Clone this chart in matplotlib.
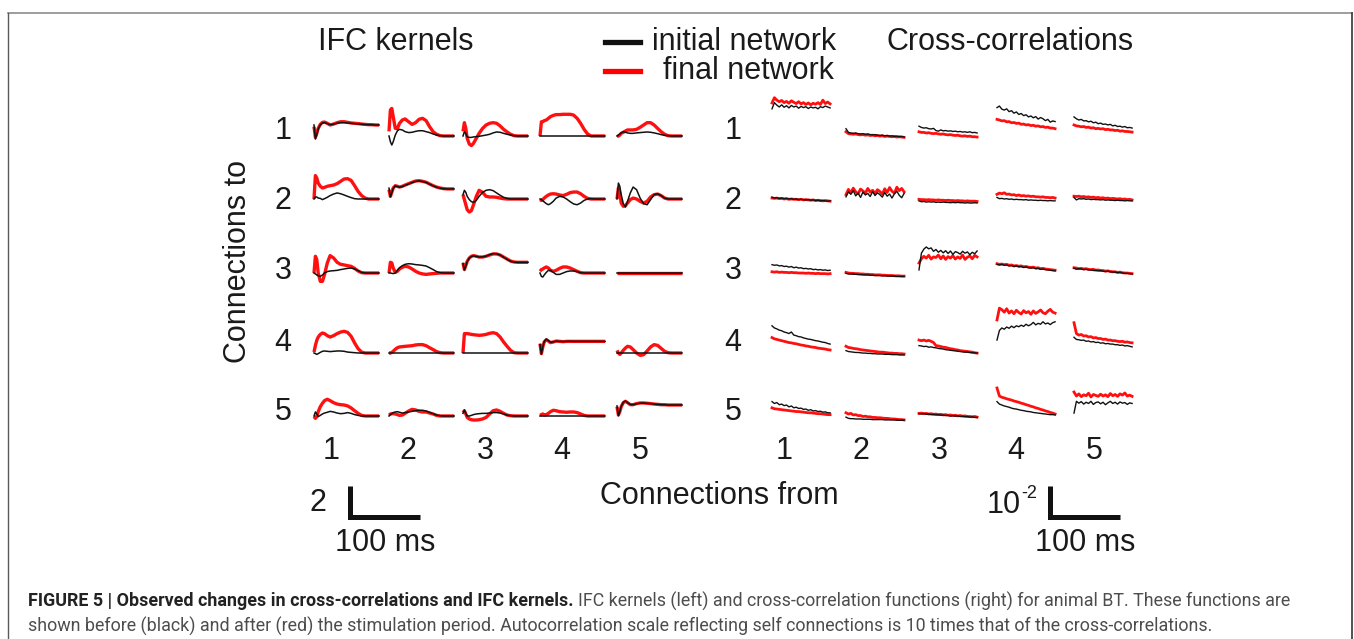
import matplotlib.pyplot as plt
import numpy as np
from matplotlib.lines import Line2D

# --- Figure geometry (pixels) ---
W, H = 1354, 639
FONT = "Liberation Sans"

# --- IFC kernels: time grid [ms] and amplitudes (rows = connections to, cols = from) ---
t_kernel = [0, 2, 4, 6, 9, 12, 15, 19, 23, 28, 33, 38, 43, 48, 53, 58, 63, 68, 73, 78, 83, 88, 93]
flat_kernel = [0, 0, 0, 0, 0, 0, 0, 0, 0, 0, 0, 0, 0, 0, 0, 0, 0, 0, 0, 0, 0, 0, 0]

ifc_final_1 = [
    [0.6, -0.09, 0.17, 0.49, 0.75, 0.88, 0.9, 0.82, 0.71, 0.77, 0.86, 0.92, 0.92, 0.88, 0.84, 0.82, 0.8, 0.77, 0.75, 0.73, 0.73, 0.71, 0.71],
    [0.3, 1.68, 1.78, 1.25, 0.49, 0.49, 0.82, 1.03, 1.1, 0.92, 0.75, 0.86, 1.08, 1.14, 0.99, 0.6, 0.28, 0.11, 0.02, 0, 0, 0, 0],
    [0.3, 0.86, 0.49, -0.15, -0.52, -0.62, -0.47, -0.15, 0.17, 0.49, 0.71, 0.82, 0.86, 0.82, 0.65, 0.43, 0.26, 0.11, 0.02, 0, 0, 0, 0],
    [0, 0.92, 0.92, 0.99, 1.03, 1.14, 1.25, 1.33, 1.38, 1.38, 1.4, 1.4, 1.4, 1.35, 1.14, 0.82, 0.43, 0.13, 0, 0, 0, 0, 0],
    [-0.04, 0, 0.06, 0.17, 0.24, 0.32, 0.39, 0.39, 0.39, 0.43, 0.56, 0.71, 0.86, 0.86, 0.71, 0.49, 0.28, 0.11, 0.02, 0, 0, 0, 0],
]
ifc_initial_1 = [
    [0.71, -0.2, 0.1, 0.45, 0.72, 0.84, 0.86, 0.8, 0.73, 0.77, 0.82, 0.86, 0.86, 0.84, 0.82, 0.8, 0.78, 0.76, 0.74, 0.73, 0.72, 0.71, 0.71],
    [0, -0.37, -0.58, -0.37, 0.06, 0.34, 0.43, 0.39, 0.28, 0.22, 0.24, 0.3, 0.34, 0.34, 0.28, 0.22, 0.13, 0.06, 0.02, 0, 0, 0, 0],
    [0, 0.28, 0.15, -0.06, -0.09, -0.09, -0.06, -0.04, -0.02, 0.02, 0.06, 0.11, 0.2, 0.26, 0.24, 0.17, 0.11, 0.06, 0.02, 0, 0, 0, 0],
    flat_kernel,
    [0, 0.06, 0.13, 0.2, 0.28, 0.24, 0.2, 0.17, 0.17, 0.2, 0.22, 0.24, 0.26, 0.24, 0.2, 0.15, 0.09, 0.04, 0.02, 0, 0, 0, 0],
]
ifc_final_2 = [
    [0, 1.51, 1.35, 1.03, 0.82, 0.71, 0.75, 0.82, 0.86, 0.9, 0.99, 1.14, 1.29, 1.31, 1.2, 0.86, 0.49, 0.22, 0.06, 0, 0, 0, 0],
    [0.6, 0.17, 0.43, 0.71, 0.86, 0.82, 0.77, 0.82, 0.9, 0.99, 1.08, 1.16, 1.18, 1.14, 1.08, 0.97, 0.86, 0.77, 0.71, 0.67, 0.65, 0.65, 0.65],
    [0.28, -0.04, -0.37, -0.69, -0.84, -0.75, -0.37, 0.17, 0.56, 0.43, 0.17, 0.13, 0.13, 0.11, 0.06, 0.02, 0, 0, 0, 0, 0, 0, 0],
    [-0.04, -0.09, -0.04, 0.06, 0.17, 0.26, 0.32, 0.34, 0.32, 0.26, 0.22, 0.3, 0.41, 0.45, 0.45, 0.34, 0.17, 0.04, 0, 0, 0, 0, 0],
    [0, 0.71, 0.39, -0.26, -0.47, -0.43, -0.26, -0.04, 0.06, 0, -0.15, -0.26, -0.15, 0.13, 0.28, 0.32, 0.22, 0.06, 0, 0, 0, 0, 0],
]
ifc_initial_2 = [
    [0, 0.13, 0.13, 0.06, 0.04, -0.04, 0.02, 0.11, 0.22, 0.32, 0.39, 0.34, 0.26, 0.17, 0.09, 0.02, 0, 0, 0, 0, 0, 0, 0],
    [0.7, 0.13, 0.4, 0.69, 0.84, 0.8, 0.76, 0.8, 0.88, 0.97, 1.06, 1.14, 1.17, 1.13, 1.07, 0.96, 0.85, 0.76, 0.7, 0.66, 0.65, 0.65, 0.65],
    [0.28, 0.56, 0.43, 0.17, -0.04, -0.17, -0.22, -0.09, 0.17, 0.43, 0.56, 0.6, 0.54, 0.39, 0.24, 0.11, 0.04, 0, 0, 0, 0, 0, 0],
    [0, -0.04, -0.11, -0.19, -0.3, -0.37, -0.3, -0.15, 0.06, 0.17, 0.13, 0, -0.17, -0.32, -0.37, -0.26, -0.09, 0, 0.02, 0, 0, 0, 0],
    [0, 1.03, 0.82, 0.28, -0.3, -0.52, -0.15, 0.39, 0.77, 0.6, 0.06, -0.3, -0.37, -0.04, 0.28, 0.34, 0.22, 0.06, 0, 0, 0, 0, 0],
]
ifc_final_3 = [
    [0, 1.08, 0.86, 0, -0.54, -0.54, -0.11, 0.65, 1.12, 0.97, 0.69, 0.56, 0.52, 0.47, 0.43, 0.3, 0.13, 0.02, 0, 0, 0, 0, 0],
    [0, 0.69, 0.65, 0.32, 0.04, 0.11, 0.26, 0.37, 0.43, 0.39, 0.26, 0.11, 0, -0.06, -0.09, -0.06, -0.04, -0.02, 0, 0, 0, 0, 0],
    [0.65, 0.22, 0.47, 0.75, 0.97, 1.08, 1.12, 1.08, 1.03, 1.03, 1.08, 1.16, 1.23, 1.23, 1.16, 1.03, 0.9, 0.77, 0.71, 0.69, 0.69, 0.69, 0.69],
    [0.11, 0.22, 0.26, 0.32, 0.39, 0.32, 0.17, 0.11, 0.17, 0.3, 0.39, 0.39, 0.32, 0.22, 0.11, 0.02, 0, 0, 0, 0, 0, 0, 0],
    flat_kernel,
]
ifc_initial_3 = [
    [0, -0.06, -0.13, -0.17, -0.22, -0.13, 0, 0.09, 0.13, 0.15, 0.17, 0.22, 0.26, 0.3, 0.32, 0.26, 0.15, 0.04, 0, 0, 0, 0, 0],
    [0, 0, -0.02, -0.04, 0, 0.17, 0.34, 0.47, 0.56, 0.6, 0.58, 0.54, 0.52, 0.49, 0.45, 0.34, 0.22, 0.09, 0.02, 0, 0, 0, 0],
    [0.62, 0.2, 0.45, 0.74, 0.96, 1.06, 1.1, 1.07, 1.03, 1.04, 1.09, 1.18, 1.25, 1.24, 1.16, 1.02, 0.88, 0.76, 0.7, 0.69, 0.69, 0.69, 0.69],
    [0, -0.22, -0.26, -0.13, 0.04, 0.17, 0.17, 0.04, -0.09, -0.09, 0, 0.09, 0.13, 0.13, 0.09, 0.02, 0, 0, 0, 0, 0, 0, 0],
    flat_kernel,
]
ifc_final_4 = [
    [0.06, 0.49, 0.82, 1.03, 1.2, 1.29, 1.25, 1.12, 1.03, 1.12, 1.25, 1.35, 1.4, 1.33, 1.08, 0.65, 0.28, 0.06, 0, 0, 0, 0, 0],
    [0, 0, 0.04, 0.11, 0.24, 0.34, 0.39, 0.41, 0.43, 0.45, 0.47, 0.52, 0.54, 0.54, 0.47, 0.34, 0.22, 0.09, 0.02, 0, 0, 0, 0],
    [0, 1.25, 1.25, 1.25, 1.23, 1.2, 1.18, 1.16, 1.14, 1.16, 1.2, 1.27, 1.31, 1.25, 1.03, 0.71, 0.43, 0.17, 0.02, 0, 0, 0, 0],
    [0.6, -0.04, 0.39, 0.71, 0.86, 0.77, 0.67, 0.71, 0.77, 0.75, 0.73, 0.75, 0.75, 0.75, 0.75, 0.75, 0.75, 0.75, 0.75, 0.75, 0.75, 0.75, 0.75],
    [0.17, 0, -0.09, 0, 0.17, 0.32, 0.43, 0.39, 0.22, 0, -0.15, -0.11, 0.13, 0.39, 0.54, 0.49, 0.3, 0.11, 0.02, 0, 0, 0, 0],
]
ifc_initial_4 = [
    [0, -0.04, -0.09, -0.04, 0.04, 0.11, 0.13, 0.11, 0.09, 0.11, 0.13, 0.13, 0.11, 0.06, 0.04, 0.02, 0, 0, 0, 0, 0, 0, 0],
    flat_kernel,
    flat_kernel,
    [0.55, -0.08, 0.4, 0.74, 0.9, 0.8, 0.7, 0.72, 0.76, 0.75, 0.74, 0.75, 0.76, 0.75, 0.75, 0.75, 0.75, 0.75, 0.75, 0.75, 0.75, 0.75, 0.75],
    flat_kernel,
]
ifc_final_5 = [
    [-0.04, -0.15, -0.04, 0.28, 0.6, 0.82, 0.99, 1.08, 0.99, 0.86, 0.77, 0.73, 0.71, 0.65, 0.52, 0.34, 0.17, 0.04, 0, 0, 0, 0, 0],
    [0.06, 0.13, 0.15, 0.15, 0.13, 0.09, 0.04, 0.06, 0.17, 0.32, 0.43, 0.39, 0.3, 0.26, 0.26, 0.19, 0.13, 0.04, 0, 0, 0, 0, 0],
    [0.22, 0.34, 0.13, -0.09, -0.19, -0.24, -0.26, -0.26, -0.24, -0.19, -0.09, 0.13, 0.34, 0.39, 0.3, 0.17, 0.06, 0.02, 0, 0, 0, 0, 0],
    [0.04, 0.09, 0.13, 0.06, 0.09, 0.17, 0.28, 0.37, 0.34, 0.28, 0.26, 0.24, 0.26, 0.26, 0.22, 0.13, 0.04, 0, 0, 0, 0, 0, 0],
    [0.6, 0.06, 0.28, 0.6, 0.86, 0.95, 0.86, 0.73, 0.73, 0.8, 0.84, 0.84, 0.82, 0.8, 0.77, 0.75, 0.73, 0.73, 0.71, 0.71, 0.71, 0.71, 0.71],
]
ifc_initial_5 = [
    [0, 0.26, 0.13, -0.04, 0.04, 0.13, 0.19, 0.24, 0.3, 0.26, 0.19, 0.15, 0.17, 0.22, 0.17, 0.09, 0.04, 0, 0, 0, 0, 0, 0],
    [0, 0.09, 0.15, 0.22, 0.26, 0.28, 0.24, 0.19, 0.22, 0.26, 0.3, 0.34, 0.37, 0.37, 0.32, 0.24, 0.15, 0.06, 0.02, 0, 0, 0, 0],
    [0.17, 0.39, 0.17, 0, 0, 0.04, 0.09, 0.13, 0.15, 0.17, 0.17, 0.19, 0.22, 0.22, 0.19, 0.13, 0.06, 0.02, 0, 0, 0, 0, 0],
    flat_kernel,
    [0.65, 0.02, 0.26, 0.62, 0.88, 0.97, 0.87, 0.74, 0.73, 0.79, 0.83, 0.84, 0.82, 0.8, 0.77, 0.75, 0.73, 0.72, 0.71, 0.71, 0.71, 0.71, 0.71],
]

# --- Cross-correlations [1e-2]; self connections (diagonal) are drawn at 1/10 scale ---
AUTO_SCALE = 10
xc_final_1 = [
    [15.5, 17.2, 16.4, 15.9, 16.3, 15.6, 16.0, 15.4, 16.2, 15.7, 15.3, 15.9, 15.2, 15.6, 15.0, 15.5, 14.9, 15.4, 15.1, 15.6, 15.0, 16.4, 15.3, 15.8, 15.2],
    [0.62, 0.56, 0.55, 0.54, 0.55, 0.53, 0.52, 0.53, 0.51, 0.52, 0.5, 0.51, 0.49, 0.5, 0.48, 0.49, 0.47, 0.48, 0.47, 0.46, 0.47, 0.45, 0.46, 0.45, 0.44],
    [0.62, 0.6, 0.6, 0.58, 0.59, 0.57, 0.56, 0.57, 0.55, 0.54, 0.55, 0.53, 0.52, 0.53, 0.51, 0.5, 0.51, 0.49, 0.48, 0.49, 0.47, 0.48, 0.46, 0.46, 0.45],
    [1.02, 1.0, 0.97, 0.98, 0.94, 0.95, 0.91, 0.92, 0.89, 0.9, 0.86, 0.87, 0.84, 0.85, 0.82, 0.83, 0.8, 0.81, 0.78, 0.79, 0.76, 0.77, 0.74, 0.74, 0.72],
    [0.84, 0.81, 0.8, 0.78, 0.79, 0.76, 0.77, 0.74, 0.75, 0.72, 0.73, 0.71, 0.72, 0.69, 0.7, 0.68, 0.68, 0.66, 0.67, 0.64, 0.65, 0.63, 0.63, 0.62, 0.61],
]
xc_initial_1 = [
    [13.6, 15.6, 14.8, 14.2, 14.9, 14.1, 14.6, 13.9, 14.7, 14.2, 14.5, 13.8, 14.4, 14.0, 14.3, 13.7, 14.2, 13.9, 14.1, 13.6, 14.3, 14.0, 14.5, 14.2, 13.9],
    [0.72, 0.6, 0.58, 0.57, 0.58, 0.56, 0.55, 0.56, 0.54, 0.55, 0.53, 0.52, 0.53, 0.51, 0.5, 0.51, 0.49, 0.5, 0.48, 0.49, 0.47, 0.48, 0.46, 0.47, 0.45],
    [0.8, 0.76, 0.74, 0.75, 0.72, 0.71, 0.73, 0.66, 0.64, 0.68, 0.65, 0.66, 0.64, 0.65, 0.63, 0.64, 0.62, 0.63, 0.61, 0.62, 0.6, 0.62, 0.59, 0.6, 0.58],
    [1.4, 1.45, 1.35, 1.32, 1.36, 1.27, 1.3, 1.22, 1.26, 1.18, 1.21, 1.14, 1.17, 1.1, 1.13, 1.07, 1.11, 1.03, 1.08, 1.04, 0.98, 1.02, 0.93, 0.97, 0.95],
    [1.1, 1.04, 1.0, 1.02, 0.97, 0.98, 0.94, 0.96, 0.91, 0.93, 0.88, 0.9, 0.86, 0.87, 0.84, 0.86, 0.81, 0.83, 0.79, 0.8, 0.77, 0.79, 0.75, 0.76, 0.74],
]
xc_final_2 = [
    [0.74, 0.73, 0.74, 0.72, 0.73, 0.71, 0.72, 0.7, 0.71, 0.7, 0.7, 0.69, 0.7, 0.68, 0.69, 0.68, 0.67, 0.68, 0.66, 0.67, 0.66, 0.65, 0.66, 0.65, 0.64],
    [8.5, 10.2, 9.1, 10.6, 9.4, 8.8, 10.3, 9.7, 9.0, 10.5, 9.3, 9.9, 8.9, 10.1, 9.5, 8.7, 10.4, 9.2, 10.8, 9.6, 9.0, 10.9, 9.8, 10.5, 9.4],
    [0.7, 0.69, 0.69, 0.68, 0.69, 0.68, 0.68, 0.67, 0.68, 0.67, 0.67, 0.66, 0.67, 0.66, 0.66, 0.65, 0.66, 0.65, 0.65, 0.64, 0.65, 0.64, 0.64, 0.64, 0.63],
    [0.86, 0.9, 0.88, 0.91, 0.86, 0.87, 0.84, 0.85, 0.82, 0.84, 0.81, 0.82, 0.8, 0.81, 0.79, 0.8, 0.78, 0.78, 0.77, 0.78, 0.76, 0.76, 0.75, 0.76, 0.74],
    [0.8, 0.79, 0.8, 0.78, 0.79, 0.77, 0.78, 0.76, 0.77, 0.75, 0.76, 0.74, 0.75, 0.73, 0.74, 0.72, 0.73, 0.72, 0.71, 0.72, 0.7, 0.71, 0.69, 0.7, 0.68],
]
xc_initial_2 = [
    [0.77, 0.74, 0.75, 0.73, 0.74, 0.72, 0.73, 0.71, 0.72, 0.7, 0.71, 0.69, 0.7, 0.69, 0.68, 0.69, 0.67, 0.68, 0.66, 0.67, 0.65, 0.66, 0.65, 0.64, 0.65],
    [7.8, 9.4, 8.6, 9.8, 8.1, 9.0, 7.6, 9.3, 8.4, 8.9, 7.9, 9.5, 8.2, 9.1, 8.5, 7.7, 9.2, 8.0, 8.7, 7.4, 8.8, 9.6, 8.3, 7.5, 8.9],
    [0.65, 0.62, 0.63, 0.61, 0.62, 0.61, 0.62, 0.6, 0.61, 0.6, 0.61, 0.6, 0.6, 0.59, 0.6, 0.59, 0.6, 0.59, 0.59, 0.58, 0.59, 0.58, 0.58, 0.59, 0.58],
    [0.76, 0.72, 0.73, 0.71, 0.72, 0.7, 0.71, 0.69, 0.7, 0.69, 0.69, 0.68, 0.69, 0.67, 0.68, 0.67, 0.67, 0.66, 0.67, 0.66, 0.66, 0.65, 0.66, 0.65, 0.65],
    [0.76, 0.68, 0.72, 0.71, 0.72, 0.7, 0.71, 0.69, 0.7, 0.69, 0.69, 0.68, 0.69, 0.67, 0.68, 0.67, 0.67, 0.66, 0.67, 0.66, 0.66, 0.65, 0.66, 0.65, 0.65],
]
xc_final_3 = [
    [0.62, 0.61, 0.62, 0.6, 0.61, 0.6, 0.6, 0.59, 0.6, 0.59, 0.59, 0.58, 0.58, 0.58, 0.57, 0.58, 0.57, 0.57, 0.56, 0.57, 0.56, 0.56, 0.56, 0.55, 0.56],
    [0.6, 0.58, 0.57, 0.57, 0.56, 0.56, 0.55, 0.55, 0.54, 0.54, 0.53, 0.53, 0.52, 0.52, 0.52, 0.51, 0.51, 0.5, 0.5, 0.5, 0.49, 0.49, 0.49, 0.48, 0.48],
    [9.0, 10.4, 11.2, 10.6, 11.5, 10.3, 11.0, 10.8, 11.6, 10.4, 11.3, 10.2, 11.1, 10.6, 11.4, 10.3, 11.0, 10.5, 11.6, 10.2, 10.9, 11.3, 10.4, 11.5, 11.0],
    [0.88, 0.86, 0.87, 0.85, 0.86, 0.83, 0.84, 0.81, 0.82, 0.8, 0.81, 0.78, 0.79, 0.77, 0.76, 0.77, 0.74, 0.75, 0.72, 0.73, 0.71, 0.7, 0.69, 0.68, 0.67],
    [0.75, 0.74, 0.72, 0.73, 0.71, 0.72, 0.7, 0.69, 0.7, 0.67, 0.68, 0.66, 0.66, 0.64, 0.65, 0.63, 0.62, 0.62, 0.6, 0.61, 0.59, 0.58, 0.58, 0.57, 0.56],
]
xc_initial_3 = [
    [0.85, 0.83, 0.84, 0.81, 0.82, 0.79, 0.8, 0.77, 0.79, 0.75, 0.77, 0.74, 0.75, 0.72, 0.73, 0.71, 0.72, 0.69, 0.7, 0.68, 0.69, 0.67, 0.68, 0.66, 0.67],
    [0.57, 0.55, 0.55, 0.54, 0.54, 0.53, 0.53, 0.52, 0.52, 0.52, 0.51, 0.51, 0.5, 0.5, 0.5, 0.49, 0.49, 0.49, 0.48, 0.48, 0.48, 0.47, 0.47, 0.47, 0.47],
    [6.8, 12.2, 13.5, 14.2, 13.6, 13.9, 12.8, 13.4, 12.5, 13.1, 12.3, 13.0, 12.1, 12.9, 11.8, 12.7, 12.4, 11.9, 12.8, 12.2, 12.6, 11.7, 12.5, 12.0, 12.9],
    [0.86, 0.84, 0.86, 0.83, 0.84, 0.81, 0.82, 0.79, 0.81, 0.78, 0.79, 0.76, 0.78, 0.75, 0.74, 0.75, 0.72, 0.73, 0.7, 0.71, 0.69, 0.68, 0.67, 0.66, 0.65],
    [0.74, 0.7, 0.72, 0.71, 0.69, 0.7, 0.68, 0.68, 0.66, 0.67, 0.65, 0.66, 0.64, 0.63, 0.64, 0.62, 0.61, 0.61, 0.59, 0.6, 0.58, 0.57, 0.57, 0.56, 0.55],
]
xc_final_4 = [
    [0.82, 0.78, 0.76, 0.74, 0.72, 0.7, 0.68, 0.66, 0.65, 0.63, 0.62, 0.6, 0.58, 0.57, 0.55, 0.54, 0.52, 0.51, 0.5, 0.48, 0.47, 0.46, 0.45, 0.43, 0.42],
    [0.54, 0.5, 0.49, 0.47, 0.46, 0.45, 0.43, 0.42, 0.41, 0.4, 0.39, 0.38, 0.37, 0.36, 0.35, 0.35, 0.34, 0.33, 0.32, 0.32, 0.31, 0.31, 0.3, 0.3, 0.29],
    [0.74, 0.72, 0.74, 0.71, 0.73, 0.7, 0.66, 0.56, 0.55, 0.53, 0.51, 0.5, 0.48, 0.46, 0.45, 0.43, 0.42, 0.4, 0.39, 0.38, 0.37, 0.36, 0.35, 0.33, 0.32],
    [13.9, 17.7, 17.2, 16.4, 17.5, 16.1, 16.8, 15.9, 17.0, 16.3, 15.8, 16.9, 16.2, 16.6, 15.7, 16.8, 16.0, 16.5, 17.1, 16.2, 15.9, 16.7, 17.3, 16.4, 16.1],
    [1.3, 0.95, 0.9, 0.92, 0.87, 0.88, 0.84, 0.85, 0.81, 0.82, 0.79, 0.79, 0.76, 0.77, 0.74, 0.74, 0.72, 0.72, 0.7, 0.69, 0.7, 0.67, 0.68, 0.66, 0.65],
]
xc_initial_4 = [
    [1.2, 1.13, 1.1, 1.06, 1.04, 1.0, 0.98, 0.95, 1.0, 0.9, 0.88, 0.85, 0.84, 0.81, 0.79, 0.77, 0.76, 0.74, 0.72, 0.71, 0.69, 0.67, 0.66, 0.63, 0.61],
    [0.4, 0.37, 0.36, 0.35, 0.34, 0.34, 0.33, 0.32, 0.32, 0.31, 0.31, 0.3, 0.3, 0.29, 0.29, 0.29, 0.28, 0.28, 0.28, 0.27, 0.27, 0.27, 0.26, 0.26, 0.26],
    [0.56, 0.55, 0.53, 0.54, 0.51, 0.52, 0.5, 0.49, 0.47, 0.46, 0.45, 0.43, 0.42, 0.41, 0.4, 0.39, 0.38, 0.37, 0.36, 0.35, 0.35, 0.34, 0.33, 0.33, 0.32],
    [7.4, 10.5, 11.3, 10.9, 11.6, 11.2, 11.9, 11.4, 12.0, 11.7, 12.2, 11.8, 12.5, 12.0, 12.4, 13.1, 12.3, 12.8, 12.5, 13.3, 12.6, 12.9, 12.4, 13.0, 13.3],
    [0.83, 0.76, 0.75, 0.73, 0.74, 0.7, 0.71, 0.68, 0.69, 0.66, 0.67, 0.64, 0.65, 0.62, 0.63, 0.61, 0.61, 0.59, 0.59, 0.57, 0.58, 0.55, 0.56, 0.54, 0.52],
]
xc_final_5 = [
    [0.78, 0.75, 0.74, 0.73, 0.72, 0.71, 0.7, 0.69, 0.68, 0.67, 0.66, 0.66, 0.65, 0.64, 0.63, 0.62, 0.62, 0.61, 0.6, 0.59, 0.59, 0.58, 0.57, 0.56, 0.56],
    [0.62, 0.58, 0.6, 0.55, 0.56, 0.53, 0.53, 0.5, 0.51, 0.49, 0.49, 0.47, 0.47, 0.46, 0.46, 0.45, 0.44, 0.44, 0.43, 0.42, 0.42, 0.41, 0.4, 0.4, 0.39],
    [0.6, 0.61, 0.59, 0.6, 0.58, 0.59, 0.57, 0.58, 0.56, 0.57, 0.55, 0.56, 0.54, 0.55, 0.53, 0.54, 0.52, 0.53, 0.51, 0.52, 0.5, 0.5, 0.49, 0.5, 0.48],
    [1.42, 1.16, 1.12, 1.1, 1.07, 1.05, 1.03, 1.0, 0.98, 0.96, 0.93, 0.91, 0.88, 0.86, 0.83, 0.81, 0.78, 0.76, 0.73, 0.71, 0.68, 0.66, 0.63, 0.61, 0.58],
    [12.9, 11.6, 12.3, 11.4, 12.0, 11.7, 12.5, 11.3, 12.1, 11.8, 11.5, 12.2, 11.6, 12.0, 11.4, 12.4, 11.7, 12.1, 11.5, 12.3, 11.9, 12.6, 11.6, 11.9, 11.5],
]
xc_initial_5 = [
    [0.98, 0.92, 0.95, 0.88, 0.9, 0.85, 0.87, 0.81, 0.84, 0.78, 0.8, 0.76, 0.77, 0.73, 0.74, 0.7, 0.72, 0.68, 0.69, 0.66, 0.67, 0.64, 0.65, 0.62, 0.62],
    [0.48, 0.44, 0.43, 0.43, 0.42, 0.42, 0.42, 0.41, 0.41, 0.41, 0.41, 0.4, 0.4, 0.4, 0.4, 0.4, 0.39, 0.39, 0.39, 0.39, 0.39, 0.38, 0.38, 0.38, 0.38],
    [0.59, 0.58, 0.6, 0.57, 0.58, 0.56, 0.57, 0.55, 0.56, 0.54, 0.55, 0.53, 0.54, 0.51, 0.53, 0.51, 0.52, 0.5, 0.51, 0.49, 0.5, 0.48, 0.49, 0.47, 0.47],
    [0.98, 0.9, 0.87, 0.84, 0.82, 0.8, 0.77, 0.75, 0.74, 0.72, 0.7, 0.69, 0.67, 0.66, 0.65, 0.63, 0.62, 0.61, 0.6, 0.59, 0.58, 0.57, 0.56, 0.56, 0.55],
    [6.1, 9.9, 9.3, 9.8, 9.0, 9.6, 9.2, 9.9, 8.9, 9.5, 9.7, 9.1, 9.6, 8.8, 9.4, 9.9, 9.2, 9.6, 9.0, 9.7, 9.3, 9.5, 8.9, 9.4, 9.2],
]
t_xcorr = np.linspace(0, 83, 25)  # lag axis [ms]

ifc_final = [ifc_final_1, ifc_final_2, ifc_final_3, ifc_final_4, ifc_final_5]
ifc_initial = [ifc_initial_1, ifc_initial_2, ifc_initial_3, ifc_initial_4, ifc_initial_5]
xc_final = [xc_final_1, xc_final_2, xc_final_3, xc_final_4, xc_final_5]
xc_initial = [xc_initial_1, xc_initial_2, xc_initial_3, xc_initial_4, xc_initial_5]
labels = ["1", "2", "3", "4", "5"]

# --- Layout (pixels) ---
PX_PER_MS = 0.7
K_X0 = [314, 389, 463, 540, 617]
K_ZERO_Y = [136, 199, 273, 353, 416]
K_PX_PER_UNIT = 15.5
X_X0 = [772, 846, 919, 997, 1074]
X_ZERO_Y = [151, 221, 291, 363, 432]
X_PX_PER_UNIT = 31.0
ROW_LABEL_Y = [131, 201, 271, 343, 412]
K_COL_LABEL_X = [331, 408, 485, 562, 640]
X_COL_LABEL_X = [784, 861, 939, 1016, 1094]

RED = "#ff1010"
BLACK = "#111111"


def fx(x):
    return x / W


def fy(y):
    return 1 - y / H


fig = plt.figure(figsize=(W / 100, H / 100), dpi=100)


def cell(x0, y0, span_ms, px_per_unit, above=45, below=45):
    """Axes whose data origin sits at pixel (x0, y0)."""
    w = span_ms * PX_PER_MS
    ax = fig.add_axes([fx(x0), fy(y0 + below), w / W, (above + below) / H])
    ax.set_xlim(0, span_ms)
    ax.set_ylim(-below / px_per_unit, above / px_per_unit)
    ax.axis("off")
    return ax


# IFC kernels
for r in range(5):
    for c in range(5):
        ax = cell(K_X0[c], K_ZERO_Y[r], t_kernel[-1], K_PX_PER_UNIT)
        ax.plot(t_kernel, ifc_final[r][c], color=RED, lw=2.4, solid_capstyle="butt", clip_on=False)
        ax.plot(t_kernel, ifc_initial[r][c], color=BLACK, lw=1.1, clip_on=False)

# Cross-correlations
for r in range(5):
    for c in range(5):
        scale = AUTO_SCALE if r == c else 1
        ax = cell(X_X0[c], X_ZERO_Y[r], t_xcorr[-1], X_PX_PER_UNIT, above=70, below=5)
        ax.plot(t_xcorr, np.array(xc_final[r][c]) / scale, color=RED, lw=2.0, clip_on=False)
        ax.plot(t_xcorr, np.array(xc_initial[r][c]) / scale, color=BLACK, lw=1.0, clip_on=False)

# Scale bars: 2 units / 100 ms (kernels) and 1e-2 / 100 ms (cross-correlations)
for x0, bar_height, ppu in [(350, 2, K_PX_PER_UNIT), (1050, 1, X_PX_PER_UNIT)]:
    ax = fig.add_axes([fx(x0), fy(517), 100 * PX_PER_MS / W, bar_height * ppu / H])
    ax.set_xlim(0, 100)
    ax.set_ylim(0, bar_height)
    ax.axis("off")
    ax.plot([0, 0, 100], [bar_height, 0, 0], color=BLACK, lw=3.6,
            solid_joinstyle="miter", solid_capstyle="butt", clip_on=False)

txt = dict(family=FONT, fontsize=22, color="#1a1a1a", ha="center", va="center")
fig.text(fx(318), fy(503), "2", **txt)
fig.text(fx(385), fy(543), "100 ms", **txt)
fig.text(fx(1021), fy(505), "10", **{**txt, "ha": "right"})
fig.text(fx(1021), fy(494), "-2", **{**txt, "ha": "left", "fontsize": 13})
fig.text(fx(1085), fy(543), "100 ms", **txt)

# Titles, legend and axis labels
fig.text(fx(396), fy(42), "IFC kernels", **txt)
fig.text(fx(1010), fy(42), "Cross-correlations", **txt)
fig.add_artist(Line2D([fx(605), fx(640)], [fy(42), fy(42)], color=BLACK, lw=3.8))
fig.add_artist(Line2D([fx(605), fx(640)], [fy(71), fy(71)], color="#ff0000", lw=3.8))
fig.text(fx(652), fy(42), "initial network", **{**txt, "ha": "left"})
fig.text(fx(663), fy(71), "final network", **{**txt, "ha": "left"})

for i, lab in enumerate(labels):
    fig.text(fx(283), fy(ROW_LABEL_Y[i]), lab, **txt)
    fig.text(fx(733), fy(ROW_LABEL_Y[i]), lab, **txt)
    fig.text(fx(K_COL_LABEL_X[i]), fy(451), lab, **txt)
    fig.text(fx(X_COL_LABEL_X[i]), fy(451), lab, **txt)

fig.text(fx(238), fy(262), "Connections to", rotation=90, **txt)
fig.text(fx(719), fy(496), "Connections from", **txt)

# Frame around the figure panel
fig.add_artist(Line2D([fx(8), fx(1352)], [fy(13), fy(13)], color="#8c8c8c", lw=1.2))
fig.add_artist(Line2D([fx(8), fx(8)], [fy(13), fy(H + 5)], color="#5a5a5a", lw=1.0))
fig.add_artist(Line2D([fx(1352), fx(1352)], [fy(13), fy(H + 5)], color="#333333", lw=1.2))

# Caption
cap = dict(family="Roboto", fontsize=12.9, va="center", ha="left")
bold = fig.text(fx(28), fy(601), "FIGURE 5 | Observed changes in cross-correlations and IFC kernels.",
                weight="bold", color="#222222", **cap)
renderer = fig.canvas.get_renderer()
x_end = bold.get_window_extent(renderer).x1
fig.text((x_end + 5) / W, fy(601),
         "IFC kernels (left) and cross-correlation functions (right) for animal BT. These functions are",
         color="#4d4d4d", **cap)
fig.text(fx(28), fy(626),
         "shown before (black) and after (red) the stimulation period. Autocorrelation scale reflecting "
         "self connections is 10 times that of the cross-correlations.",
         color="#4d4d4d", **cap)

fig.savefig("out.png", dpi=100)
